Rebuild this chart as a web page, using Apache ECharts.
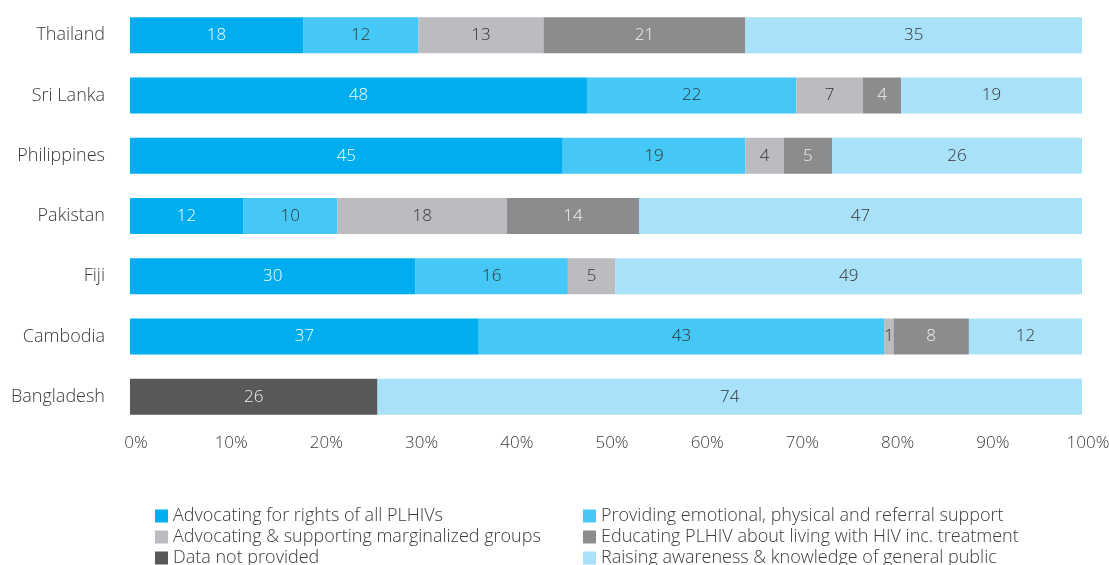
<!DOCTYPE html>
<html>
<head>
<meta charset="utf-8">
<script src="https://cdn.jsdelivr.net/npm/echarts@6/dist/echarts.min.js"></script>
<style>
  html, body { margin: 0; padding: 0; background: #fff; }
  #chart { width: 1109px; height: 565px; }
</style>
</head>
<body>
<div id="chart"></div>
<script>
// Countries, top to bottom
const countries = ['Thailand', 'Sri Lanka', 'Philippines', 'Pakistan', 'Fiji', 'Cambodia', 'Bangladesh'];

// Reported counts per activity (null = not reported)
const advocatingRights   = [18, 48, 45, 12, 30, 37, null];
const providingSupport   = [12, 22, 19, 10, 16, 43, null];
const advocatingGroups   = [13, 7, 4, 18, 5, 1, null];
const educatingPlhiv     = [21, 4, 5, 14, null, 8, null];
const dataNotProvided    = [null, null, null, null, null, null, 26];
const raisingAwareness   = [35, 19, 26, 47, 49, 12, 74];

const seriesNames = [
  'Advocating for rights of all PLHIVs',
  'Providing emotional, physical and referral support',
  'Advocating & supporting marginalized groups',
  'Educating PLHIV about living with HIV inc. treatment',
  'Data not provided',
  'Raising awareness & knowledge of general public'
];
const seriesValues = [advocatingRights, providingSupport, advocatingGroups, educatingPlhiv, dataNotProvided, raisingAwareness];
const colors = ['#00aeef', '#45c8f6', '#bbbcc0', '#8b8c8e', '#58595b', '#a9e1f9'];
const labelColors = ['#ffffff', '#333333', '#333333', '#f2f2f2', '#f2f2f2', '#333333'];

const xTicks = [0, 10, 20, 30, 40, 50, 60, 70, 80, 90, 100];

// Each row is shown as a share of its own total
const rowTotals = countries.map((_, i) =>
  seriesValues.reduce((s, arr) => s + (arr[i] || 0), 0));

const FONT = 'Open Sans';
const WEIGHT = 300;

const series = seriesNames.map((name, k) => ({
  name: name,
  type: 'bar',
  stack: 'total',
  barWidth: 36,
  itemStyle: { color: colors[k] },
  label: {
    show: true,
    position: 'inside',
    color: labelColors[k],
    fontFamily: FONT,
    fontWeight: WEIGHT,
    fontSize: 17,
    formatter: p => (p.data && p.data.raw != null) ? String(p.data.raw) : ''
  },
  emphasis: { disabled: true },
  data: seriesValues[k].map((v, i) => v == null
    ? { value: null, raw: null }
    : { value: v / rowTotals[i] * 100, raw: v })
}));

const legendText = { color: '#3a3a3a', fontFamily: FONT, fontWeight: WEIGHT, fontSize: 18, lineHeight: 18 };
const legendBase = {
  orient: 'vertical',
  top: 507,
  height: 120,
  padding: 0,
  itemWidth: 13,
  itemHeight: 13,
  itemGap: 3,
  icon: 'rect',
  selectedMode: false,
  textStyle: legendText
};

const chart = echarts.init(document.getElementById('chart'), null, { renderer: 'canvas' });
chart.setOption({
  animation: false,
  grid: { left: 130, right: 27, top: 5, bottom: 138, containLabel: false, outerBoundsMode: 'none' },
  xAxis: {
    type: 'value',
    min: xTicks[0],
    max: xTicks[xTicks.length - 1],
    interval: 10,
    axisLine: { show: false },
    axisTick: { show: false },
    splitLine: { show: false },
    axisLabel: {
      formatter: '{value}%',
      color: '#3a3a3a',
      fontFamily: FONT,
      fontWeight: WEIGHT,
      fontSize: 17,
      margin: 8,
      padding: [0, 0, 0, 12]
    }
  },
  yAxis: {
    type: 'category',
    data: countries,
    inverse: true,
    axisLine: { show: false },
    axisTick: { show: false },
    axisLabel: {
      color: '#3a3a3a',
      fontFamily: FONT,
      fontWeight: WEIGHT,
      fontSize: 18,
      margin: 25
    }
  },
  legend: [
    Object.assign({}, legendBase, { left: 155, data: [seriesNames[0], seriesNames[2], seriesNames[4]] }),
    Object.assign({}, legendBase, { left: 583, data: [seriesNames[1], seriesNames[3], seriesNames[5]] })
  ],
  series: series
});
</script>
</body>
</html>
